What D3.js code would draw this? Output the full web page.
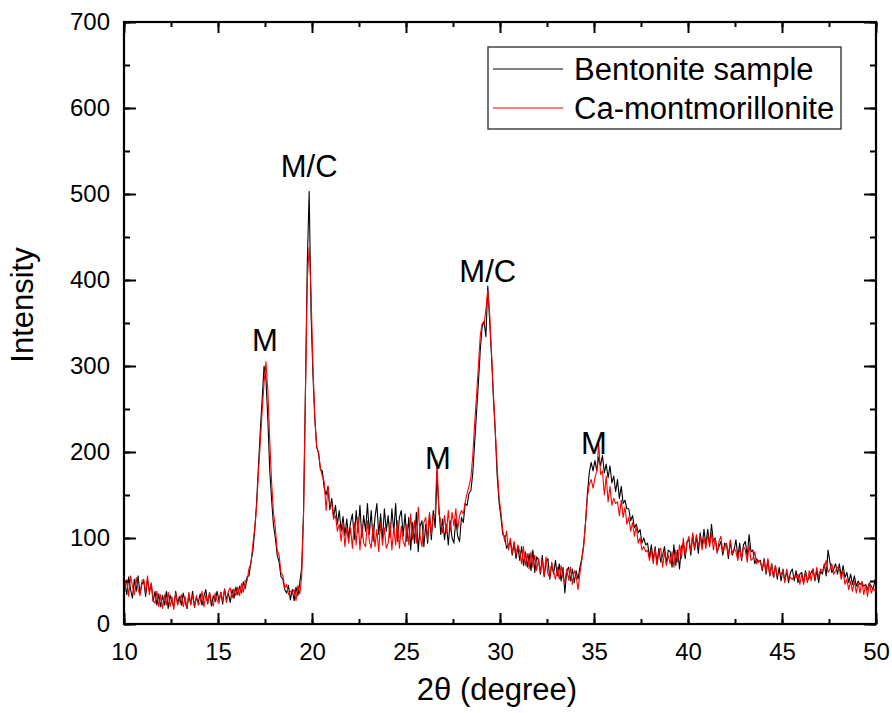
<!DOCTYPE html>
<html>
<head>
<meta charset="utf-8">
<script src="https://cdn.jsdelivr.net/npm/d3@7/dist/d3.min.js"></script>
<style>
  html, body { margin: 0; padding: 0; background: #fff; }
  svg { display: block; }
  text { font-family: "Liberation Sans", Arial, sans-serif; fill: #000; }
</style>
</head>
<body>
<svg id="chart" width="892" height="713"></svg>
<script>
// ---- Data (2θ grid: 10.05, 10.15, ..., 49.95) ----
const twoThetaStart = 10.05;
const twoThetaStep = 0.1;

const bentonite = [
  48, 34, 55, 40, 30, 52, 38, 56, 35, 46,
  50, 32, 52, 38, 47, 26, 38, 22, 35, 20,
  33, 22, 38, 18, 34, 25, 20, 38, 24, 32,
  22, 36, 26, 18, 34, 23, 38, 20, 31, 25,
  35, 22, 32, 40, 24, 36, 21, 33, 26, 38,
  27, 37, 23, 41, 28, 36, 25, 40, 30, 43,
  34, 44, 36, 49, 41, 55, 56, 72, 84, 108,
  140, 183, 225, 262, 300, 285, 238, 180, 145, 115,
  100, 80, 72, 55, 52, 40, 36, 45, 28, 40,
  27, 43, 33, 48, 65, 130, 270, 420, 503, 360,
  290, 238, 206, 198, 180, 178, 158, 150, 160, 133,
  146, 124, 138, 116, 132, 108, 125, 103, 122, 100,
  118, 128, 98, 132, 106, 138, 100, 126, 108, 140,
  104, 132, 96, 124, 140, 104, 128, 98, 134, 108,
  126, 100, 134, 106, 140, 96, 124, 132, 102, 128,
  96, 124, 86, 118, 94, 130, 84, 114, 120, 90,
  116, 94, 128, 98, 132, 112, 172, 136, 104, 122,
  98, 116, 92, 120, 100, 94, 122, 102, 96, 124,
  118, 140, 138, 152, 155, 175, 210, 245, 280, 318,
  346, 352, 334, 393, 352, 311, 262, 222, 172, 142,
  124, 104, 102, 88, 92, 96, 80, 94, 76, 90,
  74, 90, 68, 84, 66, 82, 62, 86, 60, 78,
  74, 58, 80, 55, 72, 76, 52, 70, 58, 74,
  56, 70, 50, 66, 36, 62, 66, 50, 64, 48,
  62, 52, 66, 76, 92, 118, 152, 176, 188, 178,
  190, 178, 194, 184, 196, 176, 186, 170, 184, 164,
  172, 154, 168, 146, 160, 140, 144, 134, 134, 120,
  126, 112, 116, 106, 110, 94, 100, 92, 94, 78,
  92, 74, 90, 70, 88, 72, 80, 90, 70, 86,
  84, 66, 92, 68, 86, 64, 90, 94, 76, 96,
  98, 80, 104, 86, 102, 82, 106, 90, 110, 92,
  110, 92, 116, 96, 100, 84, 90, 96, 80, 94,
  92, 76, 96, 80, 86, 98, 78, 94, 74, 92,
  96, 78, 104, 84, 86, 70, 76, 72, 74, 62,
  76, 58, 74, 56, 70, 54, 68, 52, 66, 50,
  64, 50, 62, 48, 60, 64, 50, 62, 48, 58,
  60, 48, 62, 50, 54, 60, 64, 50, 62, 48,
  62, 58, 70, 56, 86, 72, 60, 64, 70, 58,
  70, 56, 68, 54, 60, 48, 58, 46, 56, 44,
  50, 46, 48, 44, 46, 40, 48, 44, 40, 52
];

const caMontmorillonite = [
  38, 52, 32, 56, 44, 34, 54, 40, 33, 50,
  52, 36, 56, 34, 48, 28, 24, 38, 20, 34,
  18, 34, 22, 37, 20, 32, 17, 36, 22, 27,
  34, 20, 32, 18, 37, 22, 34, 19, 33, 22,
  25, 38, 20, 34, 23, 37, 26, 21, 36, 27,
  24, 37, 27, 40, 25, 38, 42, 30, 41, 33,
  43, 33, 47, 37, 51, 50, 65, 70, 92, 110,
  135, 175, 212, 248, 280, 305, 272, 215, 165, 130,
  112, 86, 80, 60, 56, 42, 46, 34, 38, 36,
  40, 27, 45, 35, 55, 125, 265, 400, 438, 385,
  300, 240, 205, 200, 180, 172, 165, 132, 160, 138,
  140, 122, 126, 108, 116, 96, 118, 90, 112, 94,
  112, 88, 118, 92, 124, 86, 114, 94, 90, 120,
  96, 88, 116, 90, 110, 84, 118, 92, 112, 88,
  94, 118, 86, 112, 92, 120, 88, 114, 96, 90,
  116, 92, 128, 98, 120, 94, 136, 102, 90, 118,
  124, 98, 130, 104, 126, 126, 190, 128, 120, 106,
  126, 106, 132, 108, 130, 114, 134, 110, 126, 132,
  128, 142, 152, 160, 170, 195, 232, 265, 300, 335,
  350, 348, 366, 388, 360, 315, 268, 225, 182, 148,
  130, 108, 96, 108, 86, 100, 82, 96, 80, 92,
  84, 70, 90, 68, 82, 64, 84, 66, 80, 62,
  76, 60, 74, 56, 78, 58, 54, 72, 60, 52,
  66, 52, 68, 54, 48, 64, 51, 66, 46, 62,
  56, 40, 58, 74, 90, 118, 148, 162, 168, 158,
  170, 178, 210, 174, 178, 150, 172, 142, 160, 138,
  146, 140, 142, 126, 144, 124, 136, 116, 124, 108,
  118, 102, 114, 94, 100, 86, 90, 84, 86, 74,
  86, 70, 88, 68, 84, 88, 66, 84, 68, 80,
  70, 84, 66, 86, 72, 92, 76, 100, 80, 94,
  102, 84, 106, 88, 104, 90, 102, 86, 100, 88,
  104, 90, 106, 86, 100, 82, 96, 102, 84, 88,
  94, 80, 98, 82, 88, 84, 74, 88, 76, 90,
  86, 72, 92, 74, 76, 84, 70, 74, 72, 64,
  74, 60, 76, 56, 70, 54, 68, 56, 60, 58,
  62, 48, 64, 52, 54, 52, 56, 54, 58, 46,
  58, 46, 60, 48, 62, 50, 64, 52, 66, 54,
  64, 62, 66, 74, 60, 64, 70, 58, 62, 66,
  64, 52, 62, 46, 52, 40, 50, 38, 50, 36,
  48, 36, 50, 34, 46, 32, 48, 36, 42, 38
];

const seriesNames = ["Bentonite sample", "Ca-montmorillonite"];
const seriesColors = ["#000000", "#ff0000"];

const xTicks = [10, 15, 20, 25, 30, 35, 40, 45, 50];
const yTicks = [0, 100, 200, 300, 400, 500, 600, 700];

const peakLabels = ["M", "M/C", "M", "M/C", "M"];
const peakX = [17.5, 19.85, 26.7, 29.35, 35.0];
const peakY = [318, 520, 180, 398, 198];

// ---- Layout ----
const svg = d3.select("#chart");
const plotL = 124, plotR = 876, plotT = 22, plotB = 624;

const x = d3.scaleLinear().domain([10, 50]).range([plotL, plotR]);
const y = d3.scaleLinear().domain([0, 700]).range([plotB, plotT]);

const twoTheta = bentonite.map((_, i) => +(twoThetaStart + i * twoThetaStep).toFixed(2));

svg.append("defs").append("clipPath").attr("id", "clip")
  .append("rect").attr("x", plotL).attr("y", plotT)
  .attr("width", plotR - plotL).attr("height", plotB - plotT);

const line = d3.line()
  .x((d, i) => x(twoTheta[i]))
  .y(d => y(d));

const g = svg.append("g").attr("clip-path", "url(#clip)");
[bentonite, caMontmorillonite].forEach((s, k) => {
  g.append("path").datum(s)
    .attr("fill", "none")
    .attr("stroke", seriesColors[k])
    .attr("stroke-width", 1.1)
    .attr("stroke-linejoin", "round")
    .attr("d", line);
});

const xMinor = d3.range(10, 50.01, 2.5);
const yMinor = d3.range(0, 700.1, 50);

function addAxis(axisGen, transform) {
  const a = svg.append("g").attr("transform", transform).call(axisGen);
  a.select(".domain").remove();
  a.selectAll("line").attr("stroke", "#000").attr("stroke-width", 2);
  return a;
}

addAxis(d3.axisBottom(x).tickValues(xMinor).tickSize(-5).tickFormat(""), `translate(0,${plotB})`);
addAxis(d3.axisTop(x).tickValues(xMinor).tickSize(-5).tickFormat(""), `translate(0,${plotT})`);
addAxis(d3.axisLeft(y).tickValues(yMinor).tickSize(-6).tickFormat(""), `translate(${plotL},0)`);
addAxis(d3.axisRight(y).tickValues(yMinor).tickSize(-6).tickFormat(""), `translate(${plotR},0)`);

const xb = addAxis(d3.axisBottom(x).tickValues(xTicks).tickSize(-11).tickPadding(19).tickFormat(d3.format("d")), `translate(0,${plotB})`);
xb.selectAll("text").attr("font-size", 24).attr("font-family", "Liberation Sans, Arial, sans-serif").attr("fill", "#000");
addAxis(d3.axisTop(x).tickValues(xTicks).tickSize(-11).tickFormat(""), `translate(0,${plotT})`);
const yl = addAxis(d3.axisLeft(y).tickValues(yTicks).tickSize(-12).tickPadding(14).tickFormat(d3.format("d")), `translate(${plotL},0)`);
yl.selectAll("text").attr("font-size", 24).attr("font-family", "Liberation Sans, Arial, sans-serif").attr("fill", "#000");
addAxis(d3.axisRight(y).tickValues(yTicks).tickSize(-12).tickFormat(""), `translate(${plotR},0)`);

svg.append("rect")
  .attr("x", plotL).attr("y", plotT)
  .attr("width", plotR - plotL).attr("height", plotB - plotT)
  .attr("fill", "none").attr("stroke", "#000").attr("stroke-width", 2.2);

svg.append("text")
  .attr("x", (plotL + plotR) / 2 - 3).attr("y", 700)
  .attr("text-anchor", "middle").attr("font-size", 31)
  .text("2θ (degree)");
svg.append("text")
  .attr("transform", `translate(33,305) rotate(-90)`)
  .attr("text-anchor", "middle").attr("font-size", 31)
  .text("Intensity");

peakLabels.forEach((t, i) => {
  svg.append("text")
    .attr("x", x(peakX[i])).attr("y", y(peakY[i]))
    .attr("text-anchor", "middle").attr("font-size", 31)
    .text(t);
});

const lg = svg.append("g");
lg.append("rect").attr("x", 488).attr("y", 47).attr("width", 353).attr("height", 82)
  .attr("fill", "#fff").attr("stroke", "#444").attr("stroke-width", 1.5);
seriesNames.forEach((n, i) => {
  const yy = 69 + i * 39;
  lg.append("line").attr("x1", 493).attr("x2", 563).attr("y1", yy).attr("y2", yy)
    .attr("stroke", seriesColors[i]).attr("stroke-width", 1.2);
  lg.append("text").attr("x", 574).attr("y", yy + 11)
    .attr("font-size", 31).text(n);
});
</script>
</body>
</html>
